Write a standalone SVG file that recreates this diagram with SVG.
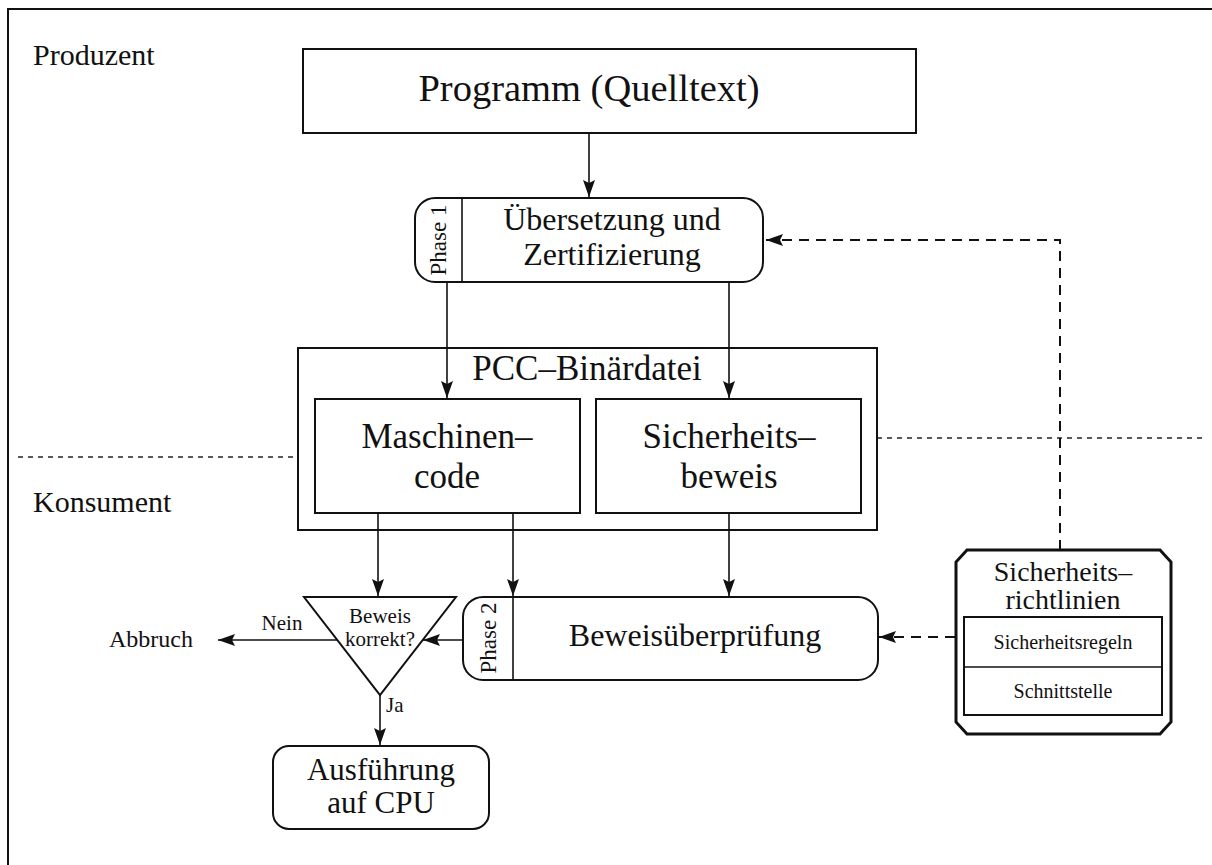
<svg xmlns="http://www.w3.org/2000/svg" width="1212" height="865" viewBox="0 0 1212 865">
  <style>
    text { font-family: "Liberation Serif", "Times New Roman", serif; fill: #111; }
    .box { fill: #fff; stroke: #111; stroke-width: 2; }
    .thick { fill: #fff; stroke: #111; stroke-width: 3; }
    .line { fill: none; stroke: #111; stroke-width: 1.6; }
    .dash { fill: none; stroke: #111; stroke-width: 2; stroke-dasharray: 10 7; }
    .dot { fill: none; stroke: #222; stroke-width: 1.4; stroke-dasharray: 5 5; }
    .c { text-anchor: middle; }
  </style>
  <defs>
    <marker id="arrow" markerUnits="userSpaceOnUse" markerWidth="18" markerHeight="14" refX="17" refY="7" orient="auto">
      <path d="M0,1 L17,7 L0,13 L3,7 Z" fill="#111"/>
    </marker>
  </defs>

  <rect width="1212" height="865" fill="#fff"/>
  <!-- page frame -->
  <path d="M8,865 V9 H1212" fill="none" stroke="#111" stroke-width="2"/>

  <!-- producer / consumer separation -->
  <g id="separator">
    <line class="dot" x1="18" y1="457" x2="298" y2="457"/>
    <line class="dot" x1="877" y1="438" x2="1205" y2="438"/>
  </g>
  <text x="33" y="65" font-size="30">Produzent</text>
  <text x="33" y="512" font-size="30">Konsument</text>

  <g id="programm">
    <rect class="box" x="303" y="49" width="613" height="84"/>
    <text x="589" y="101" font-size="38.5" class="c">Programm (Quelltext)</text>
  </g>

  <g id="uebersetzung">
    <rect class="box" x="415" y="198" width="348" height="84" rx="20"/>
    <line class="line" x1="462" y1="198" x2="462" y2="282" stroke-width="2"/>
    <text transform="translate(446,240) rotate(-90)" font-size="23" class="c">Phase 1</text>
    <text x="612" y="230" font-size="32" class="c">Übersetzung und</text>
    <text x="612" y="265" font-size="32" class="c">Zertifizierung</text>
  </g>

  <g id="pcc-binaerdatei">
    <rect class="box" x="298" y="348" width="579" height="182"/>
    <text x="587" y="380" font-size="35" class="c">PCC–Binärdatei</text>
  </g>

  <g id="maschinencode">
    <rect class="box" x="315" y="399" width="265" height="114"/>
    <text x="447" y="448" font-size="35" class="c">Maschinen–</text>
    <text x="447" y="488" font-size="35" class="c">code</text>
  </g>

  <g id="sicherheitsbeweis">
    <rect class="box" x="596" y="399" width="265" height="114"/>
    <text x="729" y="448" font-size="35" class="c">Sicherheits–</text>
    <text x="729" y="488" font-size="35" class="c">beweis</text>
  </g>

  <g id="beweis-korrekt">
    <path class="box" d="M304,597 H456 L380,695 Z"/>
    <text x="380" y="623" font-size="21" class="c">Beweis</text>
    <text x="380" y="646" font-size="21" class="c">korrekt?</text>
  </g>

  <g id="abbruch">
    <text x="109" y="647" font-size="24">Abbruch</text>
  </g>

  <g id="beweisueberpruefung">
    <rect class="box" x="463" y="597" width="415" height="83" rx="20"/>
    <line class="line" x1="513" y1="597" x2="513" y2="680" stroke-width="2"/>
    <text transform="translate(496,638) rotate(-90)" font-size="23" class="c">Phase 2</text>
    <text x="695" y="646" font-size="32" class="c">Beweisüberprüfung</text>
  </g>

  <g id="ausfuehrung">
    <rect class="box" x="273" y="746" width="216" height="83" rx="16"/>
    <text x="381" y="780" font-size="31" class="c">Ausführung</text>
    <text x="381" y="813" font-size="31" class="c">auf CPU</text>
  </g>

  <g id="sicherheitsrichtlinien">
    <path class="thick" d="M967,550 H1160 L1171,562 V722 L1160,734 H967 L956,722 V562 Z"/>
    <text x="1063" y="581" font-size="28" class="c">Sicherheits–</text>
    <text x="1063" y="609" font-size="28" class="c">richtlinien</text>
    <rect class="box" x="964" y="617" width="198" height="98"/>
    <line class="line" x1="964" y1="667" x2="1162" y2="667" stroke-width="2"/>
    <text x="1063" y="649" font-size="20" class="c">Sicherheitsregeln</text>
    <text x="1063" y="698" font-size="20" class="c">Schnittstelle</text>
  </g>

  <g id="connectors">
    <line class="line" x1="589" y1="133" x2="589" y2="197" marker-end="url(#arrow)"/>
    <line class="line" x1="447" y1="282" x2="447" y2="398" marker-end="url(#arrow)"/>
    <line class="line" x1="729" y1="282" x2="729" y2="398" marker-end="url(#arrow)"/>
    <line class="line" x1="378" y1="513" x2="378" y2="596" marker-end="url(#arrow)"/>
    <line class="line" x1="513" y1="513" x2="513" y2="596" marker-end="url(#arrow)"/>
    <line class="line" x1="729" y1="513" x2="729" y2="596" marker-end="url(#arrow)"/>
    <line class="line" x1="463" y1="640" x2="423" y2="640" marker-end="url(#arrow)"/>
    <line class="line" x1="337" y1="640" x2="218" y2="640" marker-end="url(#arrow)"/>
    <line class="line" x1="380" y1="695" x2="380" y2="745" marker-end="url(#arrow)"/>
    <path class="dash" d="M1060,550 V240 H766" marker-end="url(#arrow)"/>
    <line class="dash" x1="955" y1="637" x2="879" y2="637" marker-end="url(#arrow)"/>
    <text x="282" y="630" font-size="21" class="c">Nein</text>
    <text x="386" y="712" font-size="21">Ja</text>
  </g>
</svg>
